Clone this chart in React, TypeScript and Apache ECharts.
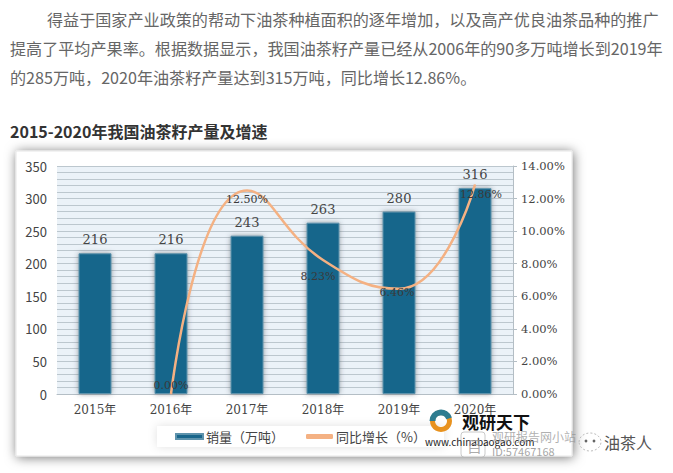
import React, { useEffect, useRef } from "react";
import * as echarts from "echarts";

const categories = ["2015年", "2016年", "2017年", "2018年", "2019年", "2020年"];
const output = [216, 216, 243, 263, 280, 316];
const growth: (number | null)[] = [null, 0, 12.5, 8.23, 6.46, 12.86];
const growthLabelPositions = ["bottom", "top", "bottom", "bottom", "bottom", "bottom"];
const growthLabelShifts = [[0, 0], [0, 0], [0, 0], [-5, 8], [-2, -5], [6, 1]];
const paragraphLines = [
  "得益于国家产业政策的帮动下油茶种植面积的逐年增加，以及高产优良油茶品种的推广",
  "提高了平均产果率。根据数据显示，我国油茶籽产量已经从2006年的90多万吨增长到2019年",
  "的285万吨，2020年油茶籽产量达到315万吨，同比增长12.86%。",
];
const heading = "2015-2020年我国油茶籽产量及增速";

const CJK = '"Noto Sans CJK SC", "Noto Sans", sans-serif';
const SERIF = '"DejaVu Serif", "Noto Sans CJK SC", serif';

export default function App() {
  const ref = useRef<HTMLDivElement>(null);
  useEffect(() => {
    document.body.style.margin = "0";
    const chart = echarts.init(ref.current!, null, { renderer: "svg" });
    const text = (x: number, y: number, t: string, fontSize: number, fill: string, extra: any = {}) => ({
      type: "text",
      x,
      y,
      z: 20,
      style: { text: t, fontSize, fill, fontFamily: CJK, textVerticalAlign: "middle", ...extra },
    });
    chart.setOption({
      animation: false,
      backgroundColor: "#ffffff",
      grid: {
        left: 57,
        right: 160,
        top: 166,
        bottom: 79,
        show: true,
        backgroundColor: "#EBF2F8",
        borderWidth: 0,
      },
      legend: {
        left: 157,
        top: 426,
        width: 275,
        padding: [4, 18, 4, 18],
        itemGap: 22,
        itemWidth: 27,
        itemHeight: 5,
        backgroundColor: "#ffffff",
        shadowColor: "rgba(0,0,0,0.12)",
        shadowBlur: 10,
        textStyle: { fontFamily: CJK, fontSize: 13, color: "#444", padding: [0, 0, 0, -2] },
        data: [
          { name: "销量（万吨）", icon: "rect" },
          { name: "同比增长（%）", icon: "roundRect" },
        ],
      },
      xAxis: {
        type: "category",
        data: categories,
        axisTick: { show: false },
        axisLine: { lineStyle: { color: "#B4BEC5" } },
        axisLabel: { fontFamily: SERIF, fontSize: 12, color: "#444", margin: 10 },
      },
      yAxis: [
        {
          type: "value",
          min: 0,
          max: 350,
          interval: 50,
          axisLine: { show: false },
          axisTick: { show: false },
          axisLabel: { fontFamily: CJK, fontSize: 13, color: "#444", margin: 10 },
          splitLine: { show: true, lineStyle: { color: "#BCC7CE", width: 1 } },
          minorTick: { show: false, splitNumber: 5 },
          minorSplitLine: { show: true, lineStyle: { color: "#BCC7CE", width: 1 } },
        },
        {
          type: "value",
          min: 0,
          max: 14,
          interval: 2,
          axisLine: { show: true, lineStyle: { color: "#B4BEC5" } },
          axisTick: { show: true, length: 4, lineStyle: { color: "#B4BEC5" } },
          axisLabel: {
            fontFamily: SERIF,
            fontSize: 11.5,
            color: "#444",
            margin: 8,
            formatter: (v: number) => v.toFixed(2) + "%",
          },
          splitLine: { show: false },
        },
      ],
      series: [
        {
          name: "销量（万吨）",
          type: "bar",
          barWidth: 33,
          data: output,
          z: 2,
          itemStyle: {
            color: "#19668B",
            borderColor: "#5E93AC",
            borderWidth: 1,
            shadowColor: "rgba(60,70,80,0.55)",
            shadowBlur: 5,
          },
          label: {
            show: true,
            position: "top",
            distance: 7,
            fontFamily: SERIF,
            fontSize: 13,
            color: "#444",
          },
        },
        {
          name: "同比增长（%）",
          type: "line",
          yAxisIndex: 1,
          smooth: 0.5,
          showSymbol: true,
          showAllSymbol: true,
          symbol: "circle",
          symbolSize: 1,
          connectNulls: false,
          z: 5,
          lineStyle: { color: "#F4B183", width: 2.5 },
          itemStyle: { color: "#F4B183" },
          labelLayout: (p: any) => ({
            dx: growthLabelShifts[p.dataIndex][0],
            dy: growthLabelShifts[p.dataIndex][1],
          }),
          data: growth.map((v, i) => ({
            value: v,
            label: {
              show: v !== null,
              position: growthLabelPositions[i],
              distance: 3,
              fontFamily: SERIF,
              fontSize: 11,
              color: "#3a3a3a",
              formatter: (p: any) => Number(p.value).toFixed(2) + "%",
            },
          })),
        },
      ],
      graphic: [
        {
          type: "rect",
          z: -10,
          silent: true,
          shape: { x: 16, y: 151, width: 556, height: 305 },
          style: { fill: "#fff", stroke: "#e6e6e6", lineWidth: 1, shadowColor: "rgba(0,0,0,0.55)", shadowBlur: 12, shadowOffsetX: 1, shadowOffsetY: 1 },
        },
        text(47, 19, paragraphLines[0], 16.1, "#666666"),
        text(10, 48, paragraphLines[1], 16.1, "#666666"),
        text(10, 77, paragraphLines[2], 16.1, "#666666"),
        text(10, 131, heading, 16, "#333333", { fontWeight: "bold" }),
        { type: "ring", z: 21, shape: { cx: 441, cy: 421, r: 11, r0: 6 }, style: { fill: "#E8921E" } },
        { type: "sector", z: 22, shape: { cx: 441, cy: 421, r: 11.5, r0: 5.5, startAngle: Math.PI, endAngle: Math.PI * 1.9 }, style: { fill: "#2E7C8F" } },
        text(462, 421, "观研天下", 17, "#111111", { fontWeight: "bold" }),
        text(425, 441, "www.chinabaogao.com", 10, "#222222"),
        text(492, 436, "观研报告网小站", 12, "rgba(150,150,150,0.75)"),
        text(492, 451, "ID:57467168", 11, "rgba(150,150,150,0.85)"),
        { type: "rect", z: 19, shape: { x: 461, y: 432, width: 24, height: 25, r: 3 }, style: { fill: "rgba(255,255,255,0.6)", stroke: "rgba(180,180,180,0.7)", lineWidth: 1 } },
        text(467, 445, "目", 15, "rgba(150,150,150,0.8)"),
        { type: "ellipse", z: 20, shape: { cx: 590, cy: 442, rx: 11, ry: 9 }, style: { fill: "rgba(255,255,255,0)", stroke: "#bdbdbd", lineWidth: 1, lineDash: [2, 2] } },
        { type: "circle", z: 20, shape: { cx: 586, cy: 441, r: 1.4 }, style: { fill: "#666" } },
        { type: "circle", z: 20, shape: { cx: 594, cy: 441, r: 1.4 }, style: { fill: "#666" } },
        text(604, 442, "油茶人", 16, "#555555"),
      ],
    });
    return () => chart.dispose();
  }, []);
  return <div ref={ref} style={{ width: 673, height: 473 }} />;
}
